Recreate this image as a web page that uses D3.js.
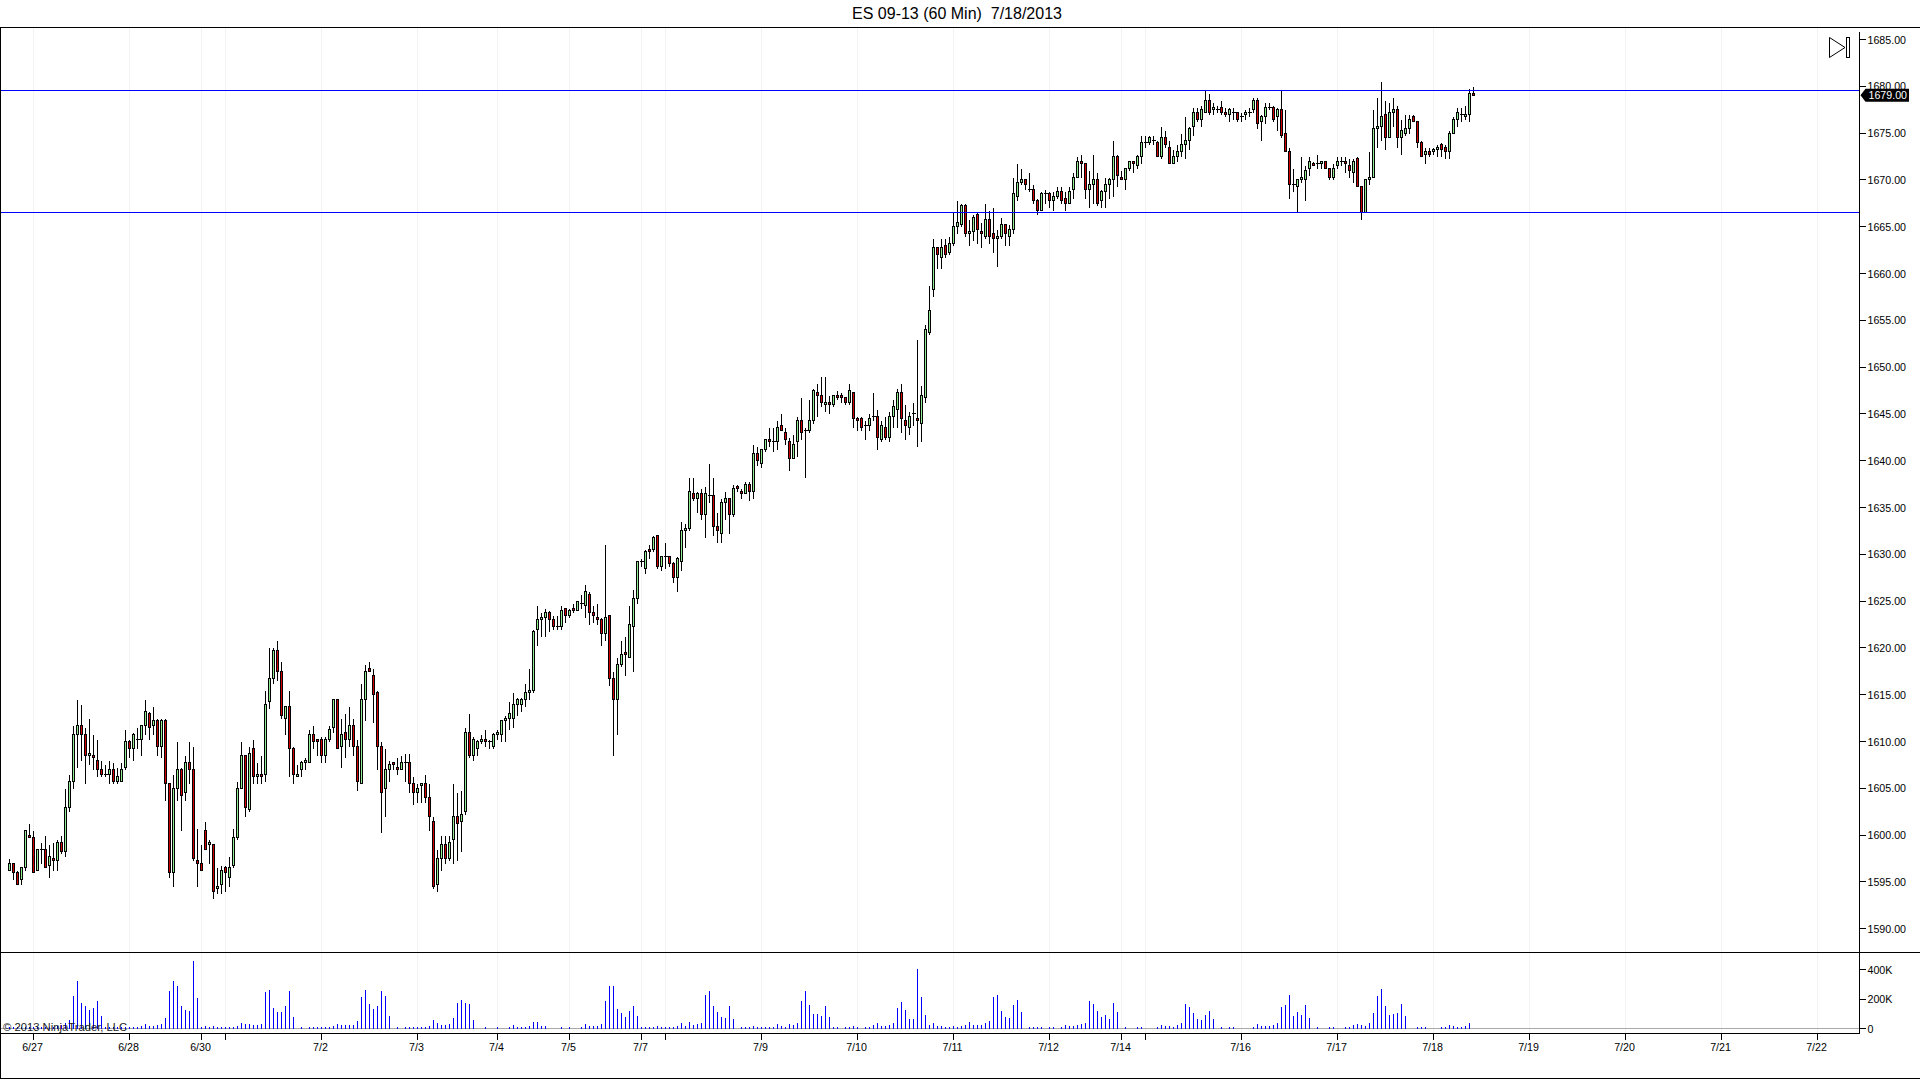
<!DOCTYPE html>
<html>
<head>
<meta charset="utf-8">
<title>ES 09-13 (60 Min)</title>
<script src="https://cdn.jsdelivr.net/npm/d3@7"></script>
<style>
  html, body { margin: 0; padding: 0; background: #fff; overflow: hidden; }
  svg { display: block; }
  text { font-family: "Liberation Sans", Arial, sans-serif; fill: #000; }
</style>
</head>
<body>
<div id="chart"></div>
<script>
const chartTitle = "ES 09-13 (60 Min)  7/18/2013";
const copyright = "© 2013 NinjaTrader, LLC";

// hourly bars, left to right
const opens = [
  1596.25,1597,1596,1595.25,1596.5,1600,1599.75,1596.25,1598.5,1598.5,
  1596.75,1597.5,1597.25,1599.25,1598.25,1603,1605.75,1610.75,1611.75,1610.75,
  1608.5,1608.5,1608,1607,1606.5,1606.5,1607,1605.75,1605.75,1607.25,
  1610,1609.25,1610.25,1610.25,1611.75,1613,1611.75,1612.25,1609.5,1612.25,
  1605.5,1596,1605,1607,1604.5,1607.75,1607,1597.25,1597,1600.5,
  1599,1599,1594.25,1594.75,1596.5,1595.5,1596.75,1599.75,1605,1608.5,
  1602.75,1609.25,1606.25,1606.5,1606.5,1614.25,1616.75,1619.75,1617.5,1612.5,
  1613.75,1609.25,1606.25,1607,1607.75,1607.75,1610.75,1610.25,1610.25,1608.5,
  1610.25,1611.5,1614.5,1609.5,1611,1610.25,1611.75,1609.5,1605.5,1614.5,
  1617.75,1617,1615.25,1609.5,1605,1607,1607.75,1607.25,1607,1607.75,
  1607.75,1605.5,1604.5,1605.25,1605.5,1604,1601.5,1594.75,1597.5,1599,
  1597.5,1599.5,1602,1601.5,1602.5,1611,1608.5,1609.25,1610,1610.25,
  1610,1609.5,1610.75,1610.75,1612.25,1612.5,1612.5,1614,1614,1614.5,
  1615.25,1615.5,1622,1623,1623.25,1623.75,1623,1622.25,1622.25,1624.25,
  1623.5,1624.25,1624,1624.75,1624.5,1625.75,1623.75,1623.25,1623,1621.5,
  1623.5,1616.75,1614.5,1618.25,1619.5,1619,1622.25,1625.25,1629.25,1628.5,
  1630.5,1630.5,1632,1628.75,1629.75,1629.75,1629,1627.5,1629.25,1632.5,
  1632.75,1636.5,1636,1636.5,1634.25,1636.25,1636.25,1633,1632.25,1635.5,
  1636,1634.25,1637.25,1636.75,1636.5,1637.5,1636.75,1640.75,1639.75,1641.25,
  1642.25,1642,1642,1643.75,1643,1642,1640.25,1642,1644.25,1643.25,
  1643.25,1644.25,1647.25,1647,1646,1646.25,1646,1647,1647,1646.75,
  1646.25,1647.25,1644.5,1644.5,1643.75,1643.75,1644.75,1644.75,1642.25,1643.5,
  1642.5,1644.75,1645.5,1647.25,1644.25,1643.5,1645,1644.5,1644,1646.75,
  1653.75,1658.25,1662.75,1661.75,1663,1662.25,1663.25,1665,1665.25,1667.25,
  1664.25,1664.5,1666.25,1664.5,1664,1665.75,1664.25,1663.75,1664,1665.25,
  1664,1664.75,1668.25,1669.75,1670,1669,1669,1667.75,1666.75,1668.5,
  1668.5,1667.75,1668.25,1668.75,1668,1667.5,1669,1670.25,1672,1671.75,
  1669,1669.5,1670,1667.75,1668.75,1669.5,1670,1672.5,1670.25,1670,
  1671.25,1672,1671.5,1672.5,1674,1674,1674.25,1674,1672.5,1674.5,
  1673.5,1671.75,1672.5,1673,1673.75,1674.25,1675.75,1677.25,1676.5,1677.25,
  1678.5,1677.5,1677.5,1677.75,1677.25,1677,1677.25,1677.25,1676.75,1677,
  1677.25,1677.5,1678.5,1676.25,1676.75,1677.75,1677.75,1676.75,1677.5,1675,
  1673,1669.5,1669.25,1670,1670,1671.25,1671.75,1671.75,1671.75,1672,
  1671.25,1670.25,1671.5,1672,1672,1671.5,1670.75,1672.25,1669.25,1666.5,
  1670,1670.25,1675.5,1675.75,1677,1674.5,1677.25,1677.5,1674.5,1675,
  1675.5,1676.75,1676.25,1674,1672.75,1673,1673,1673.25,1673.75,1673.5,
  1673,1675,1676.5,1677,1676.75,1677,1679.25
];
const highs = [
  1597.5,1597,1596.25,1596.5,1600.5,1601.25,1600.5,1598.5,1599.25,1600,
  1599,1599.25,1599.5,1600,1605,1606.5,1611.75,1614.5,1614,1611.5,
  1612.5,1610.75,1610.25,1608,1607.5,1608,1607.75,1607.25,1607.75,1611.25,
  1610.25,1611,1611.5,1611.75,1614.5,1613.25,1613.75,1612.5,1612.5,1612.5,
  1605.5,1606.5,1610,1607.25,1608.5,1610,1609.5,1600.75,1599,1601.5,
  1599.5,1599,1596.5,1596.75,1596.75,1597.75,1600.75,1605.75,1610,1608.5,
  1609.5,1610.25,1607.75,1608.5,1615.5,1620,1620,1620.75,1618.5,1613.75,
  1615.5,1609.5,1607.5,1608,1608.25,1611.25,1611.75,1610.25,1610.5,1610.5,
  1611.75,1614.5,1614.5,1612.5,1613,1613.75,1612.5,1610.25,1616.25,1618.25,
  1618.5,1617.75,1615.5,1610,1609.25,1608,1607.75,1608.25,1608.5,1608.75,
  1608.75,1606.25,1605.5,1605.5,1606.5,1605.5,1602,1598.5,1600,1600,
  1600,1605.5,1604.5,1604.75,1611.5,1613,1610.5,1610.25,1610.75,1611.25,
  1610.25,1611,1611.25,1612.25,1612.75,1614.25,1615.25,1614.75,1614.75,1616.25,
  1617.75,1622,1624.5,1623.75,1624.25,1624,1623.5,1623.5,1624.5,1624.25,
  1624.25,1624.75,1625,1625.75,1626.75,1626,1624.5,1624.75,1623.25,1631,
  1623.5,1617.5,1619,1620.75,1621.25,1624.5,1626.25,1629.25,1629.5,1630.5,
  1631,1632,1632,1629.75,1631.25,1629.75,1629.25,1629.75,1633.5,1633.25,
  1638.25,1638.25,1636.75,1637,1637.25,1639.75,1638.25,1634.5,1636,1636.75,
  1636,1637.5,1637.5,1637,1637.75,1637.75,1641.75,1641.5,1641.25,1642.25,
  1643.5,1643.5,1644.25,1645,1643.5,1642.5,1642.75,1644.75,1646.75,1643.5,
  1646.5,1647.75,1648.25,1649,1649,1647,1647,1647.5,1647.25,1646.75,
  1648.25,1647.25,1644.75,1644.75,1644.25,1645,1647.25,1645.5,1644.25,1644.75,
  1645.25,1646.5,1647.75,1648.25,1646,1645.25,1646.25,1653,1648,1654.5,
  1658.75,1663.75,1662.75,1663.75,1663.75,1664,1666.5,1667.75,1667.5,1667.5,
  1665.75,1666.25,1666.5,1665.5,1667.5,1666.75,1667,1664.75,1666,1665.25,
  1665.25,1670.25,1671.75,1671.25,1670,1670.75,1669.5,1668,1668.75,1669,
  1668.75,1668.75,1669.25,1669.25,1668.75,1669.25,1670.75,1672.5,1672.75,1671.75,
  1671,1672.75,1670.75,1669,1670.25,1670.25,1674.25,1672.75,1671,1671.25,
  1672,1672,1672.75,1674.75,1674.75,1674.75,1674.75,1674.25,1675.75,1675.25,
  1674.25,1673.25,1673.75,1675,1676.75,1675.75,1677.75,1677.75,1678,1679.5,
  1679.25,1678.25,1678,1678.5,1677.75,1677.75,1677.75,1677.25,1677.25,1677.5,
  1677.75,1678.75,1678.75,1677,1678.25,1678.25,1678,1677.75,1679.5,1677.5,
  1673.5,1671.25,1670,1672.5,1671.5,1672.5,1672,1672.75,1672,1672,
  1671.25,1671.75,1672.5,1672.5,1672.5,1672.25,1672.25,1672.5,1669.25,1670,
  1673,1677.5,1678.75,1680.5,1678.5,1678.25,1678.75,1678,1676.5,1677,
  1677,1677,1676.25,1674.25,1673.5,1673.5,1673.5,1673.75,1674,1673.75,
  1675.25,1676.75,1677.75,1677.75,1678,1679.75,1680
];
const lows = [
  1596.25,1595.25,1594.75,1594.75,1596.25,1599.75,1596,1596.25,1597,1596.5,
  1595.5,1596.25,1596.25,1598,1597.75,1602.5,1605,1607.25,1608,1605.5,
  1607.5,1607,1606.25,1606.25,1606.25,1605.5,1605.5,1605.5,1605.75,1607,
  1608.25,1608,1609.25,1608.5,1610.75,1610.25,1610.75,1608.5,1608.25,1603.75,
  1595.5,1594.5,1603.75,1600.5,1603.75,1605.5,1597.25,1594.5,1596.25,1598.5,
  1597,1593.25,1593.75,1593.75,1594,1594.5,1596.5,1599.5,1605,1602,
  1602.5,1605.5,1605.5,1605.5,1605.75,1613.5,1616.25,1616.5,1612.5,1610.75,
  1606.25,1605.5,1606.25,1606.25,1607,1607.75,1609.25,1608.5,1607.75,1607.75,
  1610,1611,1609.25,1607.25,1608.25,1609.5,1608.5,1604.75,1605.5,1612.25,
  1617.5,1612,1607,1600.25,1602,1605.75,1607,1606.5,1607,1605.75,
  1604.5,1603.25,1603.5,1603.5,1603.5,1600.5,1594.25,1594,1596.25,1597,
  1597.25,1597,1597.25,1598.25,1602.25,1608.25,1608,1608.5,1609.75,1609.5,
  1609.25,1609.25,1610.25,1610,1610,1611.25,1611.5,1612.75,1613.25,1613.75,
  1614.5,1615.25,1620.25,1621.25,1621.25,1621.75,1622,1622,1622,1622.75,
  1623.25,1623.75,1624,1624.25,1623.25,1622.5,1622.75,1622.5,1620.25,1620.75,
  1616,1608.5,1610.75,1618,1617,1619,1617.5,1624.75,1628.75,1628,
  1629.5,1630.25,1628.5,1628.25,1628.5,1628.75,1627,1626,1628.25,1630.75,
  1632.5,1635.75,1634.5,1633.75,1631.75,1635.5,1632,1631.25,1631.25,1633.75,
  1632.25,1634,1636.75,1636,1636.5,1635.75,1636,1639.5,1639.25,1641,
  1641.5,1641,1641.25,1643.25,1641.75,1639,1640.25,1640.5,1642.25,1638.25,
  1643,1644,1644.75,1645.75,1645.25,1645,1645.75,1646.5,1646.25,1646,
  1646,1643.5,1643.25,1643.25,1642.25,1643.25,1644.25,1641.25,1642,1642.25,
  1642,1643.5,1643.5,1643,1642.25,1642.75,1643.75,1641.5,1642,1646.25,
  1653.5,1657.5,1660.5,1660.5,1661.75,1662,1663,1664.25,1665,1664,
  1663,1663.5,1663.25,1662.75,1663.75,1663.25,1662.25,1660.75,1663.75,1663,
  1663,1664.25,1667.75,1669.5,1669,1668.75,1667.5,1666.25,1666.75,1667.5,
  1667,1666.75,1668,1667.5,1666.75,1667.5,1668,1670.25,1670.25,1668,
  1667,1667.5,1667.25,1667,1667,1668,1668.25,1669.25,1670,1669,
  1671,1670.75,1671.25,1671.75,1673.5,1673.75,1673.75,1672.5,1672.25,1673.5,
  1671.75,1671.75,1672,1672.5,1672.25,1673.25,1674.75,1676.25,1675.75,1677.25,
  1677,1677,1677.25,1677,1676.75,1676.25,1676.5,1676.25,1676.25,1676.5,
  1676.75,1677.25,1675.5,1674.25,1676,1677.5,1676.25,1675.25,1674.5,1673,
  1668,1668.75,1666.5,1669.75,1667.75,1670.5,1671.5,1671.25,1671.25,1671.25,
  1670,1670,1671.25,1671.5,1670.75,1670.25,1669.75,1669.25,1665.75,1666.5,
  1669.5,1670.25,1673.5,1674.25,1673.25,1674.5,1675.75,1673.5,1672.75,1674.75,
  1675,1676.25,1673.5,1672.5,1671.75,1672.5,1672.75,1672.5,1672.5,1672.25,
  1672.25,1675,1675.75,1676.25,1676.5,1676.25,1679
];
const closes = [
  1597,1596,1594.75,1596.5,1600.5,1599.75,1596,1598.5,1598.5,1596.5,
  1597.75,1597.25,1599.25,1598.25,1603,1605.75,1610.75,1611.75,1610.75,1608.5,
  1608.75,1608.25,1607,1606.5,1606.5,1607,1605.75,1606.25,1607,1610,
  1609.25,1610.75,1610.25,1611.75,1613.25,1611.5,1612.25,1609.5,1612.25,1605.5,
  1596,1605,1607,1604.25,1607.75,1607,1597.5,1597,1596.25,1598.5,
  1599.25,1594,1594.5,1596.25,1596,1596.5,1599.75,1605,1608.5,1603,
  1608.75,1606.25,1606.5,1606.25,1614,1616.75,1619.75,1617.5,1612.75,1613.75,
  1609.25,1606.5,1606.5,1607.75,1608,1610.75,1610,1610,1608.5,1610.25,
  1611.25,1614.5,1609.25,1610.75,1610.25,1611.75,1609.5,1605.75,1614.5,1617.5,
  1617.5,1615,1609.5,1604.5,1607,1607.5,1607.5,1607,1607.75,1607.75,
  1605.5,1604.5,1605,1605.5,1604,1602,1594.5,1597.5,1599,1597.5,
  1599.25,1602,1601.25,1602.25,1611,1608.5,1610.25,1610,1610.25,1610,
  1610,1610.75,1611,1612.25,1612.5,1613,1614,1614.5,1614.5,1615.25,
  1615.5,1621.75,1623,1623.25,1623.75,1623,1622.25,1622.25,1624,1623.5,
  1624,1624,1625,1624.75,1626,1623.75,1623.5,1623,1621.5,1623.25,
  1616.75,1614.5,1618.25,1619.25,1619.25,1622.5,1625.25,1629.25,1629.25,1630.25,
  1630.25,1631.75,1628.75,1629.75,1629.75,1629,1627.5,1629.5,1632.5,1632.75,
  1636.75,1636,1636.5,1634.25,1636.5,1636.25,1633,1632.5,1635.5,1636,
  1634.25,1637,1637,1636.5,1637.5,1636.75,1640.75,1640,1641.25,1642.25,
  1642,1642,1643.5,1643.25,1642.25,1640.25,1641.75,1644.25,1643,1643.25,
  1644.25,1647.5,1647,1646.25,1646.25,1646,1647,1646.75,1646.75,1646.25,
  1647.5,1644.5,1644.25,1643.5,1643.75,1644.5,1644.75,1642.5,1643.75,1642.5,
  1644.75,1645.75,1647.25,1644.5,1643.75,1644.75,1645,1644.25,1647,1654,
  1656,1662.75,1662,1662.75,1662,1663.25,1665,1665.5,1667.25,1664.25,
  1664.5,1666,1664.75,1664.25,1665.75,1664,1663.75,1664,1665.25,1664.25,
  1664.75,1668.5,1669.75,1670,1669.5,1669,1667.75,1666.75,1668.5,1668.5,
  1667.75,1668.25,1668.75,1667.75,1667.5,1668.75,1670.25,1672,1671.75,1669,
  1669.5,1670,1667.5,1668.75,1669.5,1670,1672.5,1670.5,1670,1671.25,
  1672,1671.75,1672.5,1674,1674,1674.5,1674.25,1672.5,1674.5,1673.75,
  1671.75,1672.5,1673,1673.75,1674.25,1675.5,1677.25,1676.5,1677.5,1678.5,
  1677.25,1677.75,1677.5,1677.25,1677,1677.5,1677.25,1676.5,1676.75,1677.25,
  1677.25,1678.5,1676,1676.75,1677.75,1677.75,1676.5,1677.5,1674.75,1673,
  1669.5,1669.5,1670,1670.25,1671,1672,1671.5,1671.75,1672,1671.25,
  1670.25,1671.25,1672,1672,1671.75,1671,1672,1669.25,1666.5,1670,
  1670.25,1675.5,1675.75,1676.75,1674.5,1677.25,1677.5,1674.5,1675.25,1675.5,
  1676.5,1676.25,1674,1672.5,1673,1672.75,1673.25,1673.5,1673.25,1673,
  1675,1676.5,1677.25,1677,1677,1679.25,1679
];
// volume per bar, in thousands
const volumes = [
  11,11,11,11,11,11,11,11,11,11,
  11,11,18,25,40,58,220,321,173,153,
  126,139,187,85,11,11,11,11,11,11,
  11,11,11,18,31,18,18,25,31,72,
  254,321,288,153,126,119,456,207,11,18,
  11,18,11,11,11,11,11,18,38,31,
  31,25,25,31,247,261,139,112,112,153,
  254,79,0,11,0,11,11,11,11,11,
  11,18,31,25,25,25,25,52,213,261,
  166,133,153,254,220,85,0,11,0,11,
  11,11,11,11,11,18,58,38,25,25,
  31,72,173,193,173,166,58,0,0,11,
  0,0,11,0,0,11,25,11,11,11,
  18,45,45,18,18,0,0,0,11,0,
  11,0,0,11,31,18,18,18,31,187,
  288,288,133,106,79,119,153,85,11,11,
  11,11,18,11,11,11,11,18,38,18,
  45,25,31,38,227,254,153,112,79,72,
  153,65,0,11,11,11,18,11,11,11,
  11,11,31,18,11,31,25,38,187,254,
  160,99,99,85,153,79,11,11,0,11,
  11,18,11,0,11,11,25,38,18,18,
  25,38,139,180,126,65,65,402,213,92,
  25,38,18,18,11,11,18,11,18,25,
  45,25,25,25,38,52,213,227,119,79,
  72,160,193,112,0,11,11,11,11,0,
  11,11,0,11,25,18,18,25,31,38,
  187,166,119,79,92,65,173,112,0,11,
  0,0,11,11,0,0,0,11,25,18,
  18,11,25,38,166,146,106,65,58,92,
  119,65,0,11,0,11,11,0,0,0,
  0,11,31,18,18,18,25,38,146,160,
  227,85,112,92,160,72,0,11,0,0,
  11,11,0,0,11,11,25,31,25,18,
  38,106,220,267,153,92,99,106,166,85,
  0,0,11,11,11,0,0,0,11,11,
  25,18,11,11,18,38,0
];

const priceTicks = d3.range(1590, 1686, 5);
const volumeTicks = [0, 200, 400];
const levels = [1679.5, 1666.5];
const lastPrice = 1679;

// bar index of each date mark, label empty where the chart drops it
const dateBars = [6,30,48,54,78,102,122,140,158,164,188,212,236,260,278,284,308,332,356,380,404,428,452];
const dateLabels = ["6/27","6/28","6/30","","7/2","7/3","7/4","7/5","7/7","","7/9","7/10","7/11","7/12","7/14","","7/16","7/17","7/18","7/19","7/20","7/21","7/22"];

const width = 1920, height = 1079;
const plotRight = 1859.5, plotTop = 27.5, paneSplit = 952.5, axisY = 1033.5, bottomY = 1078.5;

const x = d3.scaleLinear().domain([0, 452]).range([9.5, 1817.5]);
const y = d3.scaleLinear().domain([1590, 1685]).range([928.7, 39.5]);
const yVol = d3.scaleLinear().domain([0, 400]).range([1028.5, 969.5]);
const snap = v => Math.floor(v) + 0.5;

const svg = d3.select("#chart").append("svg")
    .attr("width", width)
    .attr("height", height);

svg.append("text")
    .attr("x", 957)
    .attr("y", 18.5)
    .attr("text-anchor", "middle")
    .style("font-size", "16px")
    .style("white-space", "pre")
    .text(chartTitle);

// vertical date grid
svg.append("g")
    .selectAll("line")
    .data(dateBars)
    .join("line")
    .attr("x1", d => x(d))
    .attr("x2", d => x(d))
    .attr("y1", plotTop)
    .attr("y2", axisY)
    .attr("stroke", "#f3f3f3")
    .attr("shape-rendering", "crispEdges");

// volume
svg.append("line")
    .attr("x1", 0).attr("x2", plotRight)
    .attr("y1", yVol(0)).attr("y2", yVol(0))
    .attr("stroke", "#a9a9a9")
    .attr("shape-rendering", "crispEdges");

svg.append("g")
    .selectAll("line")
    .data(volumes)
    .join("line")
    .attr("x1", (d, i) => x(i))
    .attr("x2", (d, i) => x(i))
    .attr("y1", yVol(0))
    .attr("y2", d => yVol(d))
    .attr("stroke", "#0000ff")
    .attr("shape-rendering", "crispEdges");

svg.append("text")
    .attr("x", 3)
    .attr("y", 1031)
    .style("font-size", "11.25px")
    .style("fill", "#222")
    .text(copyright);

// candles
const bars = opens.map((o, i) => ({ i: i, o: o, h: highs[i], l: lows[i], c: closes[i] }));
const candles = svg.append("g").selectAll("g")
    .data(bars)
    .join("g")
    .attr("shape-rendering", "crispEdges");

candles.append("line")
    .attr("x1", d => x(d.i))
    .attr("x2", d => x(d.i))
    .attr("y1", d => snap(y(d.h)))
    .attr("y2", d => snap(y(d.l)))
    .attr("stroke", "#000");

candles.filter(d => d.o !== d.c).append("rect")
    .attr("x", d => x(d.i) - 1)
    .attr("width", 2)
    .attr("y", d => snap(y(Math.max(d.o, d.c))))
    .attr("height", d => snap(y(Math.min(d.o, d.c))) - snap(y(Math.max(d.o, d.c))))
    .attr("fill", d => d.c > d.o ? "#90ee90" : "#d00000")
    .attr("stroke", "#000");

candles.filter(d => d.o === d.c).append("line")
    .attr("x1", d => x(d.i) - 2)
    .attr("x2", d => x(d.i) + 2)
    .attr("y1", d => snap(y(d.c)))
    .attr("y2", d => snap(y(d.c)))
    .attr("stroke", "#000");

// horizontal levels
svg.append("g")
    .selectAll("line")
    .data(levels)
    .join("line")
    .attr("x1", 0)
    .attr("x2", plotRight)
    .attr("y1", d => snap(y(d)))
    .attr("y2", d => snap(y(d)))
    .attr("stroke", "#0000ff")
    .attr("shape-rendering", "crispEdges");

// frame
const frame = [
    [0, plotTop, width, plotTop],
    [0, paneSplit, width, paneSplit],
    [0, axisY, plotRight, axisY],
    [0, bottomY, width, bottomY],
    [0.5, plotTop, 0.5, bottomY],
    [plotRight, 32, plotRight, axisY]
];
svg.append("g")
    .selectAll("line")
    .data(frame)
    .join("line")
    .attr("x1", d => d[0])
    .attr("y1", d => d[1])
    .attr("x2", d => d[2])
    .attr("y2", d => d[3])
    .attr("stroke", "#000")
    .attr("shape-rendering", "crispEdges");

// axes
const priceAxis = svg.append("g")
    .attr("transform", `translate(${plotRight},0)`)
    .call(d3.axisRight(y).tickValues(priceTicks).tickFormat(d3.format(".2f")).tickSize(6).tickPadding(2).offset(0));

const volAxis = svg.append("g")
    .attr("transform", `translate(${plotRight},0)`)
    .call(d3.axisRight(yVol).tickValues(volumeTicks).tickFormat(d => d ? d + "K" : "0").tickSize(6).tickPadding(2).offset(0));

const dateAxis = svg.append("g")
    .attr("transform", `translate(0,${axisY})`)
    .call(d3.axisBottom(x).tickValues(dateBars).tickFormat((d, i) => dateLabels[i]).tickSize(6).offset(0));

[priceAxis, volAxis, dateAxis].forEach(a => {
    a.select(".domain").remove();
    a.selectAll("line").attr("stroke", "#000").attr("shape-rendering", "crispEdges");
    a.selectAll("text").style("font-size", "10.67px").style("font-family", "Liberation Sans");
});
priceAxis.selectAll("text").attr("dy", "0.39em");
volAxis.selectAll("text").attr("dy", "0.39em");
dateAxis.selectAll("text").attr("y", 17).attr("dy", 0).attr("dx", -1);

// last price flag
const lastY = y(lastPrice) - 0.5;
svg.append("path")
    .attr("d", `M${plotRight + 1},${lastY} L${plotRight + 6},${lastY - 6.5} H1909 V${lastY + 6.5} H${plotRight + 6} Z`)
    .attr("fill", "#000");
svg.append("text")
    .attr("x", 1868.5)
    .attr("y", lastY + 3.6)
    .style("font-size", "10.67px")
    .style("fill", "#fff")
    .text(d3.format(".2f")(lastPrice));

// end-of-chart button
svg.append("path")
    .attr("d", "M1829.5,37.5 V57.5 L1845,47.5 Z")
    .attr("fill", "#fff")
    .attr("stroke", "#000");
svg.append("rect")
    .attr("x", 1846.5).attr("y", 37.5)
    .attr("width", 3).attr("height", 20)
    .attr("fill", "#fff")
    .attr("stroke", "#000");
</script>
</body>
</html>
